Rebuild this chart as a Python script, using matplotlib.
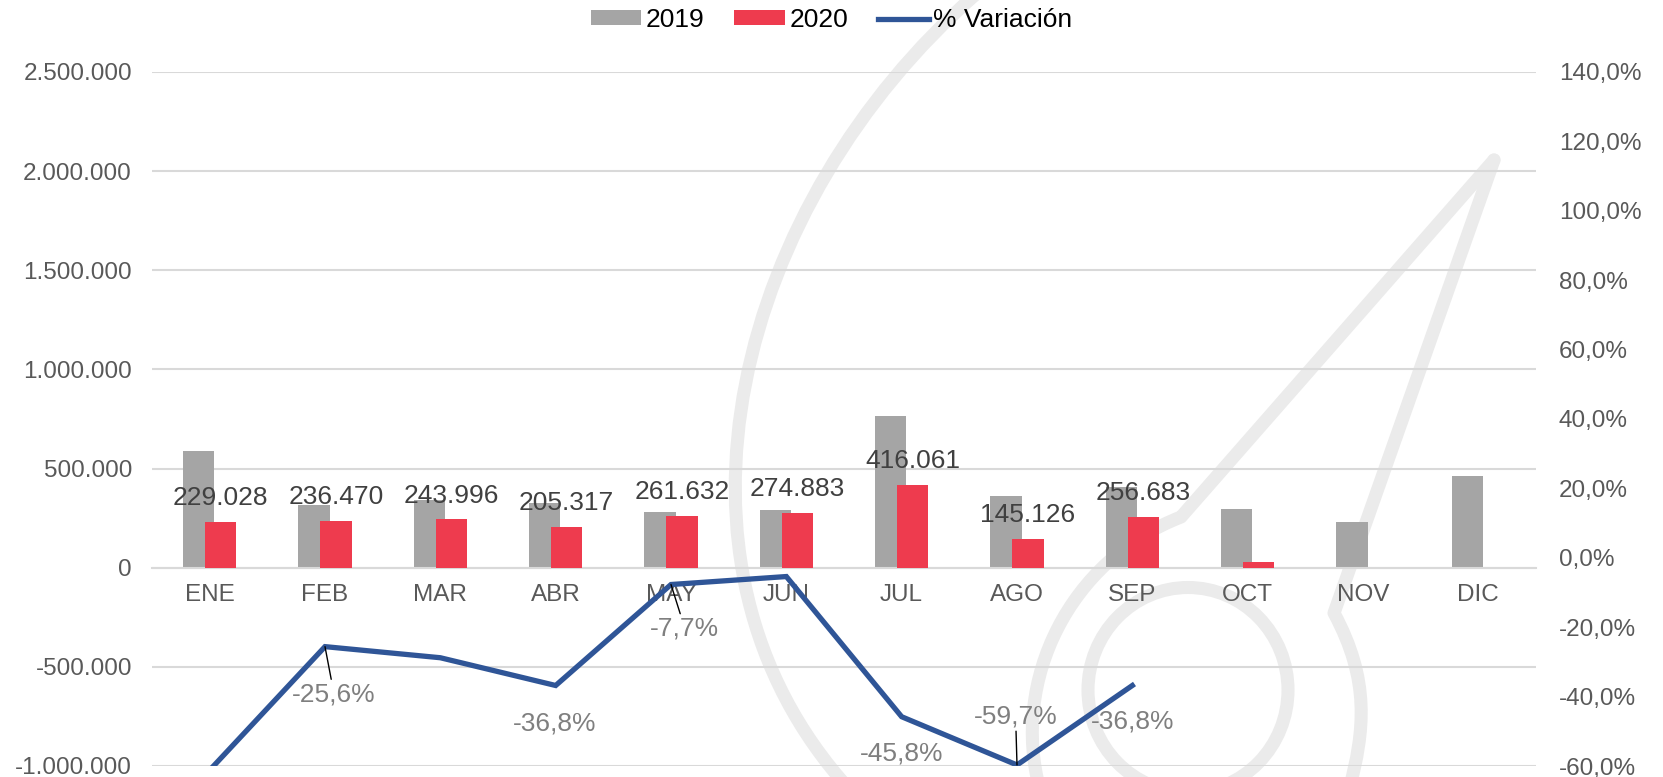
import numpy as np
import matplotlib.pyplot as plt
from matplotlib.path import Path
from matplotlib.patches import PathPatch, Ellipse
from matplotlib.ticker import FuncFormatter, MultipleLocator

plt.rcParams['font.family'] = ['Liberation Sans', 'DejaVu Sans']

meses = ['ENE', 'FEB', 'MAR', 'ABR', 'MAY', 'JUN', 'JUL', 'AGO', 'SEP', 'OCT', 'NOV', 'DIC']
ventas_2019 = [590000, 317800, 342700, 324900, 283500, 290500, 767600, 360100, 406100, 296000, 229000, 463000]
ventas_2020 = [229028, 236470, 243996, 205317, 261632, 274883, 416061, 145126, 256683, 27000, np.nan, np.nan]
variacion = [-61.2, -25.6, -28.8, -36.8, -7.7, -5.4, -45.8, -59.7, -36.8]

# etiquetas de la linea: indice -> (dx, dy) en puntos, y si lleva linea guia
etiq_var = {1: (6.5, -39.2, True), 3: (-0.7, -32.4, False), 4: (10, -36.7, True),
            6: (0, -31.3, False), 7: (-1, 29.9, True), 8: (0, -31.3, False)}

c_2019 = '#A5A5A5'
c_2020 = '#EE3B4E'
c_linea = '#2F5597'
c_grid = '#D9D9D9'
c_txt = '#595959'

W, H = 1663, 777
fig = plt.figure(figsize=(W / 100, H / 100), dpi=100)
ax = fig.add_axes([152 / W, 1 - 766 / H, (1536 - 152) / W, (766 - 72) / H])
ax.patch.set_visible(False)


def fp(x, y):
    return (x / W, 1 - y / H)


# marca de agua de fondo
wm = dict(fill=False, edgecolor='#EBEBEB', lw=9.4, transform=fig.transFigure,
          zorder=-1, capstyle='round', joinstyle='round')
C4 = Path.CURVE4
trazos = [
    ([fp(975, -5), fp(740, 200), fp(640, 560), fp(850, 790)], [Path.MOVETO, C4, C4, C4]),
    ([fp(1494, 160), fp(1181, 517), fp(1070, 560), fp(1010, 680), fp(1040, 790)],
     [Path.MOVETO, Path.LINETO, C4, C4, C4]),
    ([fp(1494, 160), fp(1334, 613), fp(1370, 680), fp(1365, 730), fp(1349, 790)],
     [Path.MOVETO, Path.LINETO, C4, C4, C4]),
]
for verts, codes in trazos:
    fig.add_artist(PathPatch(Path(verts, codes), **wm))
fig.add_artist(Ellipse(fp(1188, 690), 200 / W, 205 / H, fill=False, edgecolor='#EBEBEB',
                       lw=9.4, transform=fig.transFigure, zorder=-1))

x = np.arange(len(meses))
w = 0.272
off = 0.095
b1 = ax.bar(x - off, ventas_2019, w, color=c_2019, zorder=2, label='2019')
b2 = ax.bar(x + off, ventas_2020, w, color=c_2020, zorder=3, label='2020')

for i, v in enumerate(ventas_2020):
    if np.isnan(v) or i > 8:
        continue
    ax.annotate(f"{v:,.0f}".replace(',', '.'), (x[i] + off, v), xytext=(0, 12.1),
                textcoords='offset points', ha='center', va='baseline',
                fontsize=19, color='#404040', zorder=5)

ax.set_xlim(-0.5, 11.5)
ax.set_ylim(-1000000, 2500000)
ax.yaxis.set_major_locator(MultipleLocator(500000))
ax.yaxis.set_major_formatter(FuncFormatter(lambda v, p: f"{v:,.0f}".replace(',', '.')))
ax.set_xticks(x)
ax.set_xticklabels(meses)
ax.grid(axis='y', color=c_grid, lw=1.5, zorder=0)
ax.set_axisbelow(True)
for s in ['top', 'left', 'right']:
    ax.spines[s].set_visible(False)
ax.spines['bottom'].set_position(('data', 0))
ax.spines['bottom'].set_color(c_grid)
ax.spines['bottom'].set_linewidth(1.5)
ax.tick_params(axis='x', length=0, pad=11.5, labelsize=17.5, labelcolor=c_txt)
ax.tick_params(axis='y', length=0, pad=14.4, labelsize=17.5, labelcolor=c_txt)

ax2 = ax.twinx()
ax2.set_ylim(-60, 140)
ax2.yaxis.set_major_locator(MultipleLocator(20))
ax2.yaxis.set_major_formatter(FuncFormatter(lambda v, p: f"{v:.1f}%".replace('.', ',')))
for s in ax2.spines.values():
    s.set_visible(False)
ax2.tick_params(axis='y', length=0, pad=16.5, labelsize=17.5, labelcolor=c_txt)
ln, = ax2.plot(x[:len(variacion)], variacion, color=c_linea, lw=3.8, zorder=4,
               label='% Variación', solid_joinstyle='miter')

for i, (dx, dy, guia) in etiq_var.items():
    v = variacion[i]
    props = dict(arrowstyle='-', color='black', lw=1.0, shrinkA=0, shrinkB=0) if guia else None
    ax2.annotate(f"{v:.1f}%".replace('.', ','), (x[i], v), xytext=(dx, dy),
                 textcoords='offset points', ha='center', va='baseline',
                 fontsize=19, color='#7F7F7F', arrowprops=props, zorder=6,
                 annotation_clip=False)

fig.legend([b1, b2, ln], ['2019', '2020', '% Variación'], loc='center',
           bbox_to_anchor=(0.5, 1 - 20 / H), ncol=3, frameon=False, fontsize=19,
           handlelength=1.93, handletextpad=0.15, columnspacing=1.15, handleheight=0.5)

fig.savefig('out.png', dpi=100)
